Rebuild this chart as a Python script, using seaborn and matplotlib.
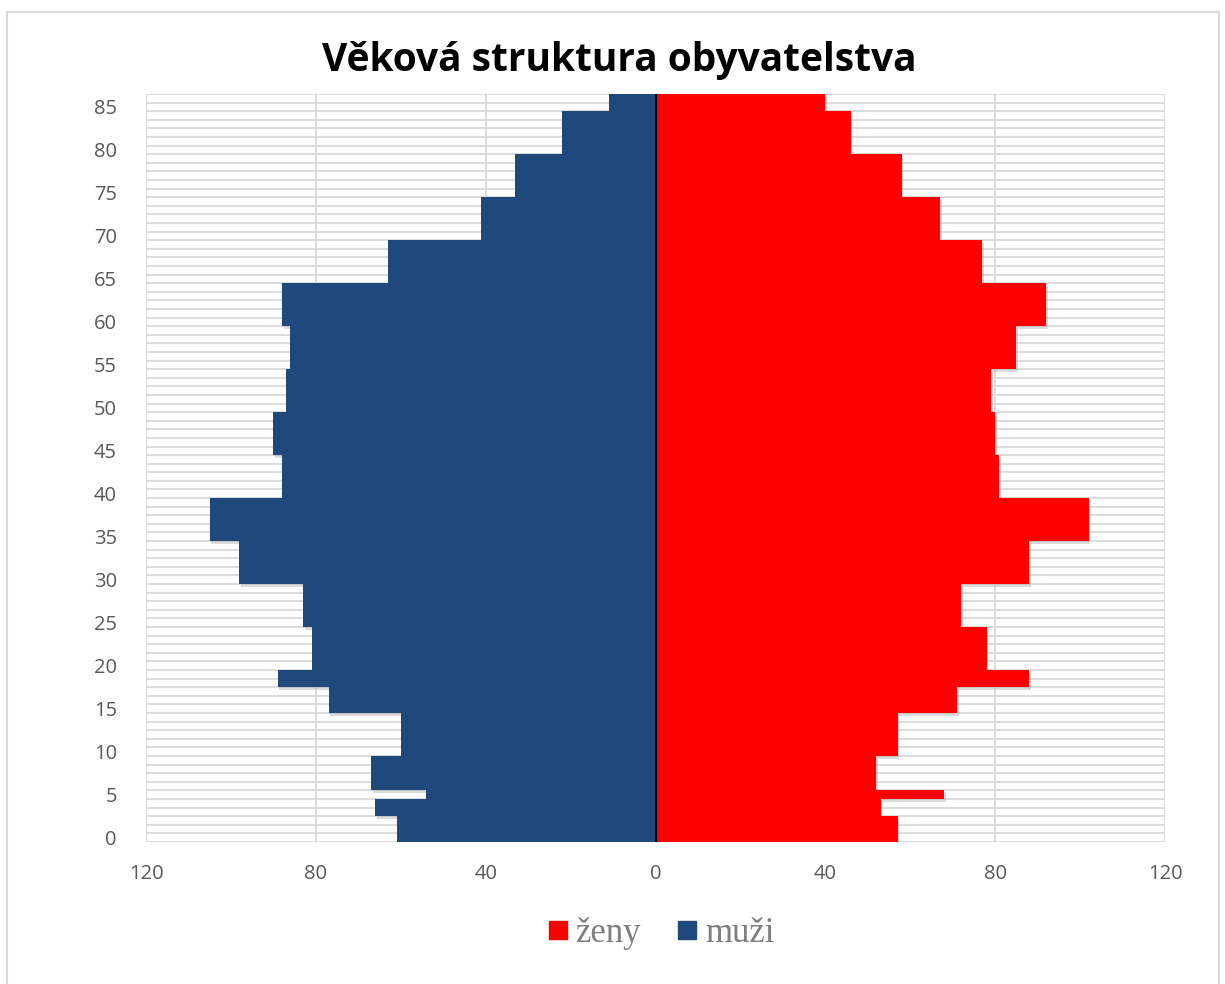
import numpy as np
import pandas as pd
import seaborn as sns
import matplotlib
matplotlib.use("Agg")
import matplotlib.pyplot as plt
from matplotlib.lines import Line2D
from matplotlib.patches import Rectangle
from matplotlib import patheffects as pe
from matplotlib.ticker import FuncFormatter

# ---- data ----
ages = list(range(0, 87))
muzi = [61, 61, 61, 66, 66, 54, 67, 67, 67, 67,
        60, 60, 60, 60, 60, 77, 77, 77, 89, 89,
        81, 81, 81, 81, 81, 83, 83, 83, 83, 83,
        98, 98, 98, 98, 98, 105, 105, 105, 105, 105,
        88, 88, 88, 88, 88, 90, 90, 90, 90, 90,
        87, 87, 87, 87, 87, 86, 86, 86, 86, 86,
        88, 88, 88, 88, 88, 63, 63, 63, 63, 63,
        41, 41, 41, 41, 41, 33, 33, 33, 33, 33,
        22, 22, 22, 22, 22, 11, 11]
zeny = [57, 57, 57, 53, 53, 68, 52, 52, 52, 52,
        57, 57, 57, 57, 57, 71, 71, 71, 88, 88,
        78, 78, 78, 78, 78, 72, 72, 72, 72, 72,
        88, 88, 88, 88, 88, 102, 102, 102, 102, 102,
        81, 81, 81, 81, 81, 80, 80, 80, 80, 80,
        79, 79, 79, 79, 79, 85, 85, 85, 85, 85,
        92, 92, 92, 92, 92, 77, 77, 77, 77, 77,
        67, 67, 67, 67, 67, 58, 58, 58, 58, 58,
        46, 46, 46, 46, 46, 40, 40]
series_names = ["ženy", "muži"]
colors = {"ženy": "#FF0000", "muži": "#1F497D"}
title = "Věková struktura obyvatelstva"
x_ticks = [-120, -80, -40, 0, 40, 80, 120]
y_ticks = list(range(0, 86, 5))

df = pd.concat([
    pd.DataFrame({"age": ages, "value": [-v for v in muzi], "sex": "muži"}),
    pd.DataFrame({"age": ages, "value": zeny, "sex": "ženy"}),
], ignore_index=True)

W, H = 1225, 984
fig = plt.figure(figsize=(W / 100, H / 100), dpi=100)
ax = fig.add_axes([146 / W, 1 - 842 / H, (1165 - 146) / W, (842 - 94) / H])

sns.barplot(data=df, x="value", y="age", hue="sex", orient="h",
            native_scale=True, width=1.0, dodge=False, saturation=1,
            palette=colors, hue_order=["muži", "ženy"],
            linewidth=0, edgecolor="none", legend=False, ax=ax)

shadow = [pe.SimplePatchShadow(offset=(1.2, -1.8), shadow_rgbFace="#9a9a9a", alpha=0.35),
          pe.Normal()]
for p in ax.patches:
    yc = p.get_y() + p.get_height() / 2
    p.set_zorder(3 - yc / 1000.0)
    p.set_path_effects(shadow)

ax.set_xlim(-120, 120)
ax.set_ylim(-0.5, 86.5)
ax.axvline(0, color="black", lw=1.6, zorder=6)

ax.set_xticks(x_ticks)
ax.xaxis.set_major_formatter(FuncFormatter(lambda v, pos: f"{abs(int(v))}"))
ax.set_yticks(y_ticks)
ax.set_yticks(np.arange(-0.5, 87, 1), minor=True)
ax.set_axisbelow(True)
ax.grid(axis="x", which="major", color="#d9d9d9", lw=1.3)
ax.grid(axis="y", which="minor", color="#d9d9d9", lw=1.3)
ax.grid(axis="y", which="major", visible=False)
ax.tick_params(axis="both", which="both", length=0)
ax.tick_params(axis="y", pad=21, labelsize=14.5, labelcolor="#595959")
ax.tick_params(axis="x", pad=16, labelsize=14.5, labelcolor="#595959")
for lab in ax.get_xticklabels() + ax.get_yticklabels():
    lab.set_fontfamily("Open Sans")
for s in ax.spines.values():
    s.set_visible(False)
ax.set_xlabel("")
ax.set_ylabel("")

fig.text(619 / W, 1 - 61 / H, title, ha="center", va="center",
         fontsize=28, fontweight="bold", family="Open Sans", color="black")

handles = [Line2D([], [], marker="s", linestyle="none", markersize=13,
                  markerfacecolor=colors[n], markeredgecolor=colors[n]) for n in series_names]
fig.legend(handles, series_names, loc="center", bbox_to_anchor=(659 / W, 1 - 934 / H),
           ncol=2, frameon=False, handletextpad=0.1, columnspacing=0.95,
           handlelength=0.8,
           prop={"family": "Liberation Serif", "size": 25}, labelcolor="#7f7f7f")

fig.add_artist(Rectangle((7 / W, -0.05), (1219 - 7) / W, 1 - 12 / H + 0.05,
                         transform=fig.transFigure, fill=False,
                         edgecolor="#d9d9d9", lw=1.5))

fig.savefig("out.png", dpi=100)
